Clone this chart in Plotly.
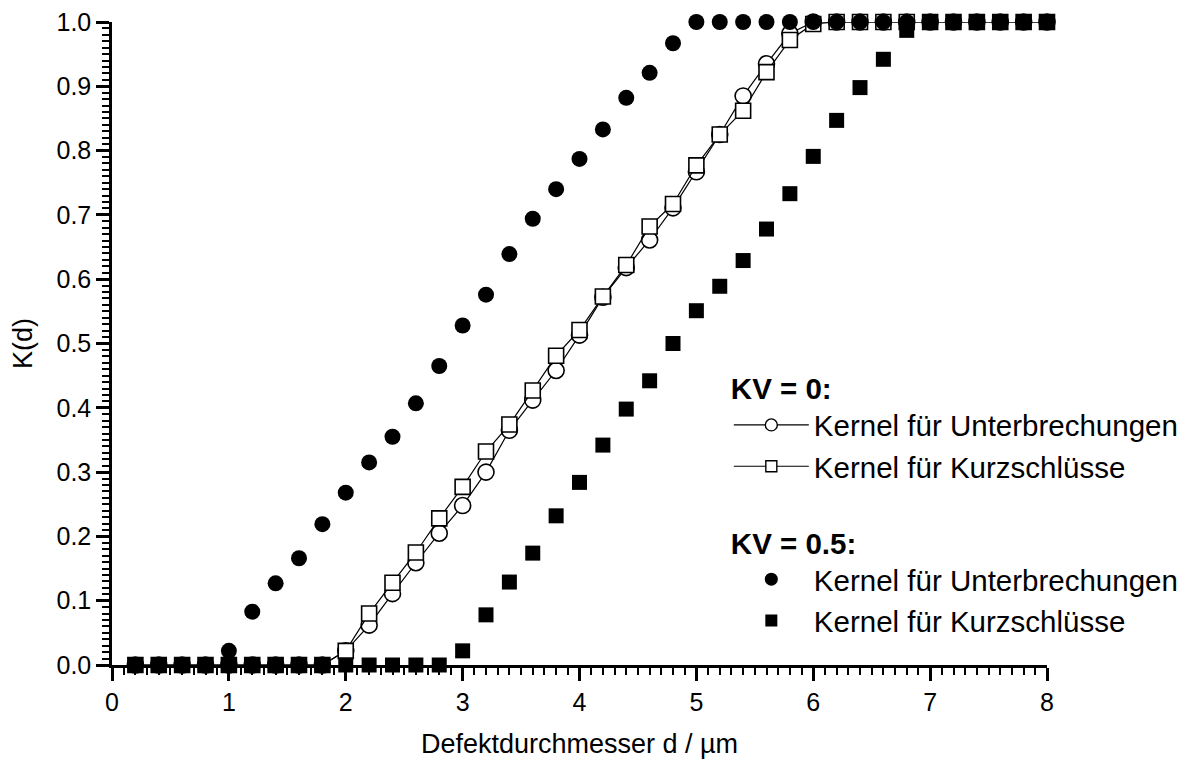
import plotly.graph_objects as go

d = [round(0.2 * i, 1) for i in range(1, 41)]

# KV = 0
open_unterbrechung = [0, 0, 0, 0, 0, 0, 0, 0, 0,
                      0.022, 0.062, 0.111, 0.159, 0.205, 0.248, 0.300, 0.365, 0.412, 0.458, 0.513,
                      0.572, 0.618, 0.661, 0.711, 0.767, 0.825, 0.885, 0.935, 0.982, 1.0,
                      1.0, 1.0, 1.0, 1.0, 1.0, 1.0, 1.0, 1.0, 1.0, 1.0]
open_kurzschluss = [0, 0, 0, 0, 0, 0, 0, 0, 0,
                    0.022, 0.080, 0.128, 0.175, 0.228, 0.277, 0.332, 0.374, 0.427, 0.481, 0.521,
                    0.573, 0.622, 0.682, 0.717, 0.777, 0.825, 0.862, 0.922, 0.972, 0.997,
                    1.0, 1.0, 1.0, 1.0, 1.0, 1.0, 1.0, 1.0, 1.0, 1.0]
# KV = 0.5
fill_unterbrechung = [0, 0, 0, 0, 0.022, 0.083, 0.127, 0.166, 0.219, 0.268,
                      0.315, 0.355, 0.407, 0.465, 0.528, 0.576, 0.639, 0.694, 0.740, 0.787,
                      0.833, 0.882, 0.921, 0.967, 1.0, 1.0, 1.0, 1.0, 1.0, 1.0,
                      1.0, 1.0, 1.0, 1.0, 1.0, 1.0, 1.0, 1.0, 1.0, 1.0]
fill_kurzschluss = [0, 0, 0, 0, 0, 0, 0, 0, 0, 0, 0, 0, 0, 0,
                    0.022, 0.078, 0.129, 0.174, 0.232, 0.284, 0.342, 0.398, 0.442, 0.500,
                    0.551, 0.589, 0.629, 0.678, 0.733, 0.791, 0.847, 0.898, 0.942, 0.987,
                    1.0, 1.0, 1.0, 1.0, 1.0, 1.0]

x_ticks = [0, 1, 2, 3, 4, 5, 6, 7, 8]
y_ticks = [0.0, 0.1, 0.2, 0.3, 0.4, 0.5, 0.6, 0.7, 0.8, 0.9, 1.0]

name_u = "Kernel für Unterbrechungen"
name_k = "Kernel für Kurzschlüsse"

FONT = "Liberation Sans, Arial, sans-serif"
LEG_FONT = 29.5

fig = go.Figure()
# data traces
fig.add_trace(go.Scatter(
    x=d, y=open_unterbrechung, mode="lines+markers", name=name_u, showlegend=False,
    line=dict(color="black", width=1.2),
    marker=dict(symbol="circle", size=16, color="white", line=dict(color="black", width=1.6)),
    cliponaxis=False))
fig.add_trace(go.Scatter(
    x=d, y=open_kurzschluss, mode="lines+markers", name=name_k, showlegend=False,
    line=dict(color="black", width=1.2),
    marker=dict(symbol="square", size=15, color="white", line=dict(color="black", width=1.6)),
    cliponaxis=False))
fig.add_trace(go.Scatter(
    x=d, y=fill_unterbrechung, mode="markers", name=name_u, showlegend=False,
    marker=dict(symbol="circle", size=16, color="black"),
    cliponaxis=False))
fig.add_trace(go.Scatter(
    x=d, y=fill_kurzschluss, mode="markers", name=name_k, showlegend=False,
    marker=dict(symbol="square", size=15, color="black"),
    cliponaxis=False))

# legend entries (no data, legend symbols only)
fig.add_trace(go.Scatter(
    x=[None], y=[None], mode="lines+markers", name=name_u, legend="legend",
    line=dict(color="black", width=1.2),
    marker=dict(symbol="circle", size=12, color="white", line=dict(color="black", width=1.4))))
fig.add_trace(go.Scatter(
    x=[None], y=[None], mode="lines+markers", name=name_k, legend="legend",
    line=dict(color="black", width=1.2),
    marker=dict(symbol="square", size=11, color="white", line=dict(color="black", width=1.4))))
fig.add_trace(go.Scatter(
    x=[None], y=[None], mode="markers", name=name_u, legend="legend2",
    marker=dict(symbol="circle", size=13, color="black")))
fig.add_trace(go.Scatter(
    x=[None], y=[None], mode="markers", name=name_k, legend="legend2",
    marker=dict(symbol="square", size=12, color="black")))

axis_common = dict(
    showline=True, linecolor="black", linewidth=2.5, mirror=False,
    ticks="outside", ticklen=13, tickwidth=2.5, tickcolor="black",
    showgrid=False, zeroline=False, layer="below traces", automargin=False,
    ticklabeloverflow="allow",
    tickfont=dict(family=FONT, size=25, color="black"),
)

leg_common = dict(
    xanchor="left", yanchor="top",
    font=dict(family=FONT, size=LEG_FONT, color="black"), bgcolor="rgba(0,0,0,0)",
    itemwidth=75, tracegroupgap=0, traceorder="normal",
)

fig.update_layout(
    width=1187, height=760,
    margin=dict(l=104, r=147, t=14, b=103),
    plot_bgcolor="white", paper_bgcolor="white",
    font=dict(family=FONT, color="black"),
    xaxis=dict(range=[0, 8], tickvals=x_ticks, ticktext=[str(v) for v in x_ticks],
               minor=dict(dtick=0.1, ticklen=7, tickwidth=1.8, tickcolor="black", ticks="outside"),
               title=dict(text="Defektdurchmesser d / µm", font=dict(family=FONT, size=27), standoff=20),
               **axis_common),
    yaxis=dict(range=[0, 1], tickvals=y_ticks, ticktext=[f"{v:.1f}" for v in y_ticks],
               minor=dict(dtick=0.01, ticklen=7, tickwidth=1.8, tickcolor="black", ticks="outside"),
               title=dict(text="K(d)", font=dict(family=FONT, size=27), standoff=21),
               **axis_common),
    legend=dict(title=dict(text="<b>KV = 0:</b>", font=dict(family=FONT, size=LEG_FONT)),
                x=0.659, y=0.473, **leg_common),
    legend2=dict(title=dict(text="<b>KV = 0.5:</b>", font=dict(family=FONT, size=LEG_FONT)),
                 x=0.659, y=0.233, **leg_common),
)

fig.write_html("out.html")
